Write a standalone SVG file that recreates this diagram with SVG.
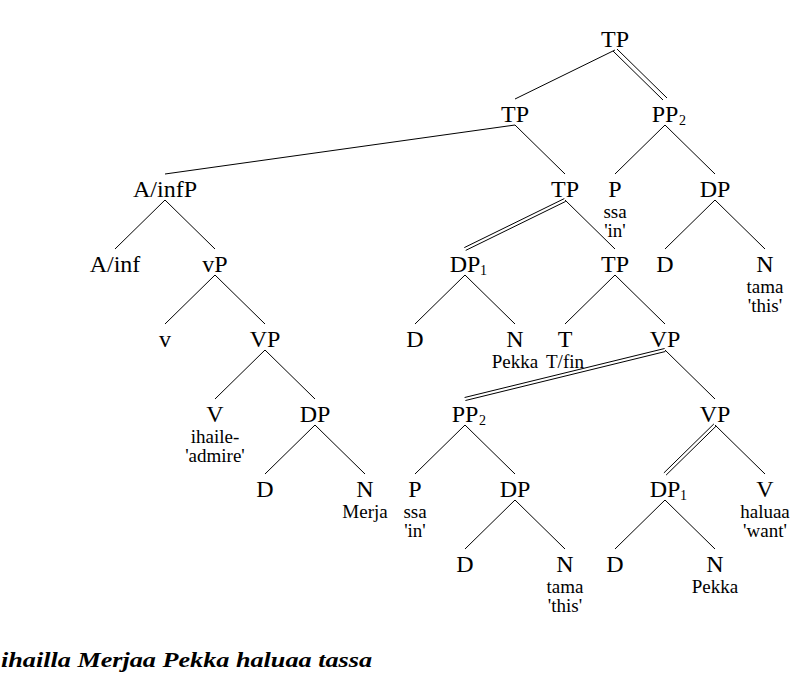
<svg xmlns="http://www.w3.org/2000/svg" width="800" height="675" viewBox="0 0 800 675">
<rect width="800" height="675" fill="#fff"/>
<g id="connectors" stroke="#000" stroke-width="1" fill="none">
<line x1="615" y1="50" x2="515" y2="99"/>
<line x1="617" y1="49" x2="667" y2="98"/><line x1="613" y1="51" x2="663" y2="100"/>
<line x1="515" y1="125" x2="165" y2="174"/>
<line x1="515" y1="125" x2="565" y2="174"/>
<line x1="665" y1="125" x2="615" y2="174"/>
<line x1="665" y1="125" x2="715" y2="174"/>
<line x1="165" y1="200" x2="115" y2="249"/>
<line x1="165" y1="200" x2="215" y2="249"/>
<line x1="565.7" y1="201.4" x2="465.7" y2="250.4"/><line x1="564.3" y1="198.6" x2="464.3" y2="247.6"/>
<line x1="565" y1="200" x2="615" y2="249"/>
<line x1="715" y1="200" x2="665" y2="249"/>
<line x1="715" y1="200" x2="765" y2="249"/>
<line x1="215" y1="275" x2="165" y2="324"/>
<line x1="215" y1="275" x2="265" y2="324"/>
<line x1="465" y1="275" x2="415" y2="324"/>
<line x1="465" y1="275" x2="515" y2="324"/>
<line x1="615" y1="275" x2="565" y2="324"/>
<line x1="615" y1="275" x2="665" y2="324"/>
<line x1="265" y1="350" x2="215" y2="399"/>
<line x1="265" y1="350" x2="315" y2="399"/>
<line x1="665.4" y1="351.5" x2="465.4" y2="400.5"/><line x1="664.6" y1="348.5" x2="464.6" y2="397.5"/>
<line x1="665" y1="350" x2="715" y2="399"/>
<line x1="315" y1="425" x2="265" y2="474"/>
<line x1="315" y1="425" x2="365" y2="474"/>
<line x1="465" y1="425" x2="415" y2="474"/>
<line x1="465" y1="425" x2="515" y2="474"/>
<line x1="716.1" y1="426.1" x2="666.1" y2="475.1"/><line x1="713.9" y1="423.9" x2="663.9" y2="472.9"/>
<line x1="715" y1="425" x2="765" y2="474"/>
<line x1="515" y1="500" x2="465" y2="549"/>
<line x1="515" y1="500" x2="565" y2="549"/>
<line x1="665" y1="500" x2="615" y2="549"/>
<line x1="665" y1="500" x2="715" y2="549"/>
</g>
<g id="nodes" font-family="Liberation Serif" font-size="24" text-anchor="middle" fill="#000">
<g id="n-tp1"><text x="615" y="47">TP</text></g>
<g id="n-tp2"><text x="515" y="122">TP</text></g>
<g id="n-pp2a"><text x="665" y="122">PP</text><text x="679" y="125" font-size="14" text-anchor="start">2</text></g>
<g id="n-ainfp"><text x="165" y="197">A/infP</text></g>
<g id="n-tp3"><text x="565" y="197">TP</text></g>
<g id="n-p1"><text x="615" y="197">P</text><text x="615" y="218" font-size="19">ssa</text><text x="615" y="237" font-size="19">'in'</text></g>
<g id="n-dp1"><text x="715" y="197">DP</text></g>
<g id="n-ainf"><text x="115" y="272">A/inf</text></g>
<g id="n-vp-small"><text x="215" y="272">vP</text></g>
<g id="n-dp1a"><text x="465" y="272">DP</text><text x="480" y="275" font-size="14" text-anchor="start">1</text></g>
<g id="n-tp4"><text x="615" y="272">TP</text></g>
<g id="n-d1"><text x="665" y="272">D</text></g>
<g id="n-n1"><text x="765" y="272">N</text><text x="765" y="293" font-size="19">tama</text><text x="765" y="312" font-size="19">'this'</text></g>
<g id="n-v-small"><text x="165" y="347">v</text></g>
<g id="n-vp1"><text x="265" y="347">VP</text></g>
<g id="n-d2"><text x="415" y="347">D</text></g>
<g id="n-n2"><text x="515" y="347">N</text><text x="515" y="368" font-size="19">Pekka</text></g>
<g id="n-t"><text x="565" y="347">T</text><text x="565" y="368" font-size="19">T/fin</text></g>
<g id="n-vp2"><text x="665" y="347">VP</text></g>
<g id="n-v1"><text x="215" y="422">V</text><text x="215" y="443" font-size="19">ihaile-</text><text x="215" y="462" font-size="19">'admire'</text></g>
<g id="n-dp2"><text x="315" y="422">DP</text></g>
<g id="n-pp2b"><text x="465" y="422">PP</text><text x="479" y="425" font-size="14" text-anchor="start">2</text></g>
<g id="n-vp3"><text x="715" y="422">VP</text></g>
<g id="n-d3"><text x="265" y="497">D</text></g>
<g id="n-n3"><text x="365" y="497">N</text><text x="365" y="518" font-size="19">Merja</text></g>
<g id="n-p2"><text x="415" y="497">P</text><text x="415" y="518" font-size="19">ssa</text><text x="415" y="537" font-size="19">'in'</text></g>
<g id="n-dp3"><text x="515" y="497">DP</text></g>
<g id="n-dp1b"><text x="665" y="497">DP</text><text x="680" y="500" font-size="14" text-anchor="start">1</text></g>
<g id="n-v2"><text x="765" y="497">V</text><text x="765" y="518" font-size="19">haluaa</text><text x="765" y="537" font-size="19">'want'</text></g>
<g id="n-d4"><text x="465" y="572">D</text></g>
<g id="n-n4"><text x="565" y="572">N</text><text x="565" y="593" font-size="19">tama</text><text x="565" y="612" font-size="19">'this'</text></g>
<g id="n-d5"><text x="615" y="572">D</text></g>
<g id="n-n5"><text x="715" y="572">N</text><text x="715" y="593" font-size="19">Pekka</text></g>
</g>
<text font-family="Liberation Serif" font-style="italic" font-weight="bold" font-size="21" x="1" y="667" textLength="371" lengthAdjust="spacingAndGlyphs">ihailla Merjaa Pekka haluaa tassa</text>
</svg>
